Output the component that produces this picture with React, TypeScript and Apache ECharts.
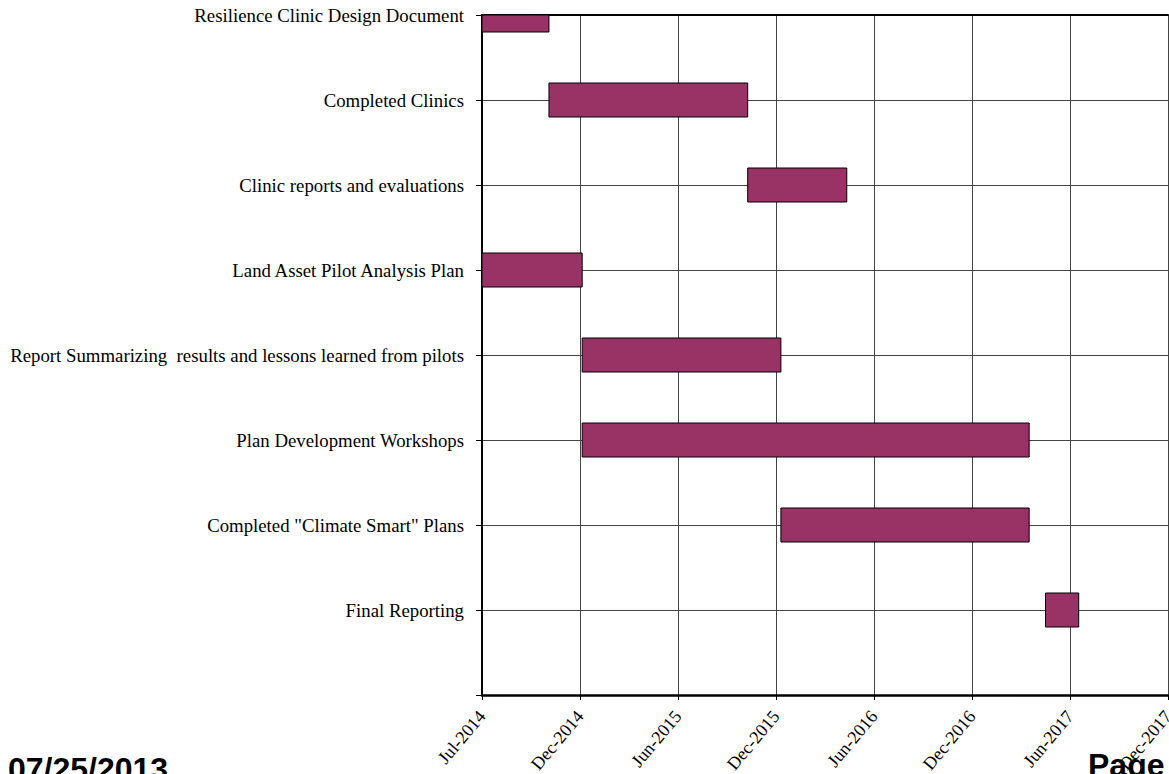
import React, { useEffect, useRef } from "react";
import * as echarts from "echarts";

const tasks = [
  "Resilience Clinic Design Document",
  "Completed Clinics",
  "Clinic reports and evaluations",
  "Land Asset Pilot Analysis Plan",
  "Report Summarizing  results and lessons learned from pilots",
  "Plan Development Workshops",
  'Completed "Climate Smart" Plans',
  "Final Reporting",
];
const startDates = [
  "2014-07-01",
  "2014-11-01",
  "2015-11-01",
  "2014-07-01",
  "2015-01-01",
  "2015-01-01",
  "2016-01-01",
  "2017-05-01",
];
const endDates = [
  "2014-11-01",
  "2015-11-01",
  "2016-05-01",
  "2015-01-01",
  "2016-01-01",
  "2017-04-01",
  "2017-04-01",
  "2017-07-01",
];
const axisStart = "2014-07-01";
const axisSpanDays = 1260;
const tickDays = 180;
const monthNames = ["Jan","Feb","Mar","Apr","May","Jun","Jul","Aug","Sep","Oct","Nov","Dec"];

const DAY = 86400000;
const toMs = (s: string) => {
  const [y, m, d] = s.split("-").map(Number);
  return Date.UTC(y, m - 1, d);
};
const toDays = (s: string) => Math.round((toMs(s) - toMs(axisStart)) / DAY);
const fmtDay = (v: number) => {
  const d = new Date(toMs(axisStart) + v * DAY);
  return monthNames[d.getUTCMonth()] + "-" + d.getUTCFullYear();
};

export default function App() {
  const ref = useRef<HTMLDivElement>(null);
  useEffect(() => {
    if (!ref.current) return;
    const chart = echarts.init(ref.current, null, { renderer: "svg" });
    const data = tasks.map((_, i) => [i, toDays(startDates[i]), toDays(endDates[i])]);
    const serif = "'Liberation Serif', 'Times New Roman', serif";
    chart.setOption({
      animation: false,
      backgroundColor: "#fff",
      grid: {
        left: 482,
        right: 1,
        top: 15,
        bottom: 79,
        containLabel: false,
        outerBoundsMode: "none",
      },
      xAxis: [
        {
          type: "value",
          min: 0,
          max: axisSpanDays,
          interval: tickDays,
          axisLine: { show: true, onZero: false, lineStyle: { color: "#000", width: 2.5 } },
          axisTick: { show: true, length: 5, lineStyle: { color: "#000", width: 1 } },
          axisLabel: {
            rotate: 50,
            margin: 18,
            formatter: (v: number) => fmtDay(v),
            fontFamily: serif,
            fontSize: 18,
            color: "#000",
            showMaxLabel: true,
            showMinLabel: true,
          },
          splitLine: { show: true, lineStyle: { color: "#444", width: 1 } },
        },
        {
          type: "value",
          position: "top",
          min: 0,
          max: axisSpanDays,
          interval: tickDays,
          axisLine: { show: true, onZero: false, lineStyle: { color: "#000", width: 2 } },
          axisTick: { show: false },
          axisLabel: { show: false },
          splitLine: { show: false },
        },
      ],
      yAxis: {
        type: "value",
        inverse: true,
        min: 0,
        max: tasks.length,
        interval: 1,
        axisLine: { show: true, onZero: false, lineStyle: { color: "#000", width: 2 } },
        axisTick: { show: true, length: 6, lineStyle: { color: "#000", width: 1 } },
        axisLabel: {
          margin: 18,
          formatter: (v: number) => tasks[v] ?? "",
          fontFamily: serif,
          fontSize: 18.8,
          color: "#000",
        },
        splitLine: { show: true, lineStyle: { color: "#444", width: 1 } },
      },
      series: [
        {
          type: "custom",
          data,
          encode: { x: [1, 2], y: 0 },
          renderItem: (params: any, api: any) => {
            const idx = api.value(0);
            const s = api.coord([api.value(1), idx]);
            const e = api.coord([api.value(2), idx]);
            const h = api.size([0, 1])[1] * 0.4;
            const rect = echarts.graphic.clipRectByRect(
              { x: s[0], y: s[1] - h / 2, width: e[0] - s[0], height: h },
              {
                x: params.coordSys.x,
                y: params.coordSys.y,
                width: params.coordSys.width,
                height: params.coordSys.height,
              }
            );
            if (!rect) return null;
            return {
              type: "rect",
              shape: rect,
              style: { fill: "#993366", stroke: "#000", lineWidth: 1 },
            };
          },
        },
      ],
      graphic: [
        {
          type: "text",
          left: 8,
          top: 753,
          style: {
            text: "07/25/2013",
            font: "bold 32px 'Liberation Sans', Arial, sans-serif",
            fill: "#000",
          },
        },
        {
          type: "text",
          left: 1088,
          top: 749,
          style: {
            text: "Page",
            font: "bold 32px 'Liberation Sans', Arial, sans-serif",
            fill: "#000",
          },
        },
      ],
    });
    return () => chart.dispose();
  }, []);
  return (
    <div
      ref={ref}
      style={{ position: "fixed", left: 0, top: 0, width: 1169, height: 774, background: "#fff" }}
    />
  );
}
